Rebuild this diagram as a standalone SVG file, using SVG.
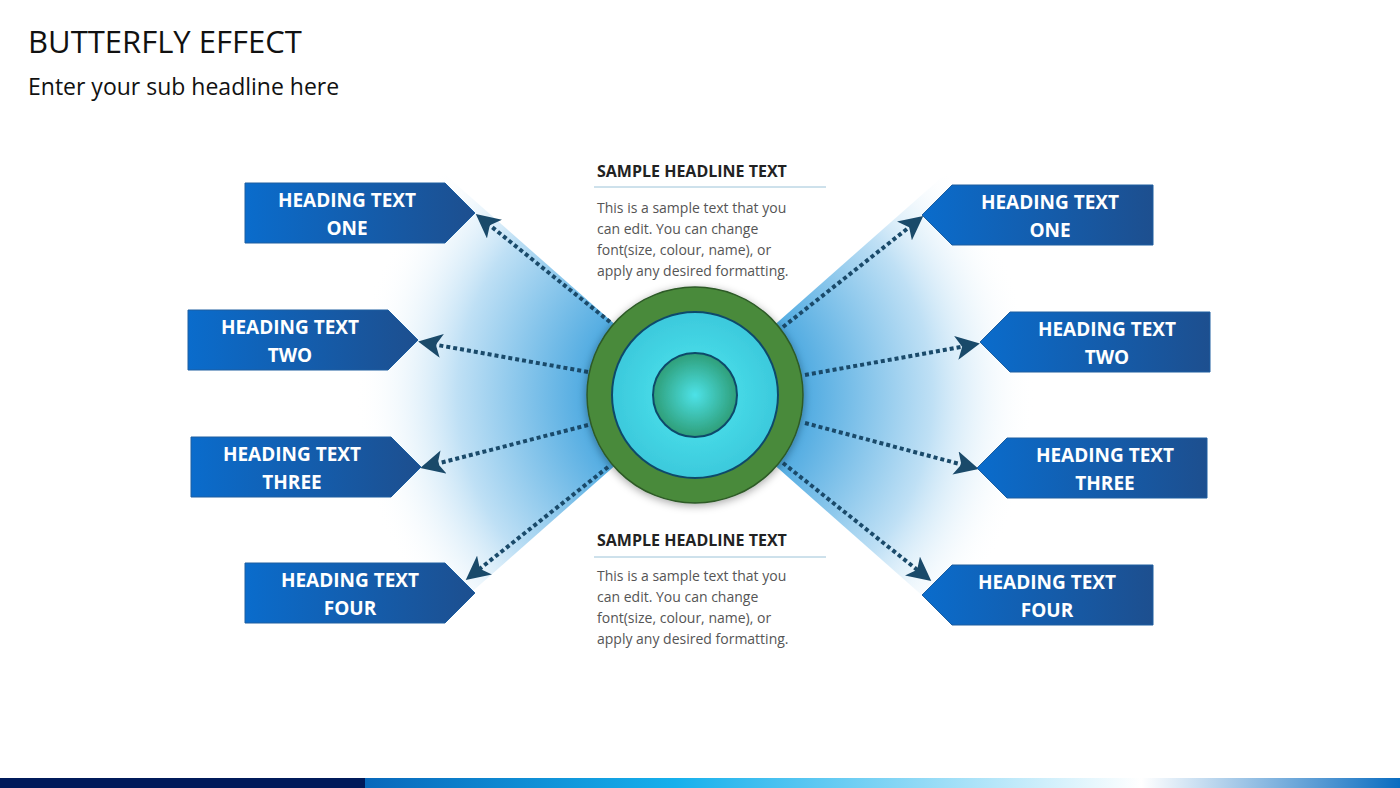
<svg xmlns="http://www.w3.org/2000/svg" width="1400" height="788" viewBox="0 0 1400 788">
<defs>
<style>
.h{font-family:"Open Sans","Liberation Sans",sans-serif;font-weight:bold;font-size:19px;fill:#fff;text-anchor:middle}
.t{font-family:"Open Sans","Liberation Sans",sans-serif;font-size:14px;fill:#555}
.sh{font-family:"Open Sans","Liberation Sans",sans-serif;font-weight:bold;font-size:16px;fill:#222}
.box{fill:url(#bg);stroke:#1e5fa0;stroke-width:1}
.arr{stroke:#1a4a6a;stroke-width:4;stroke-dasharray:4 3;fill:none;marker-end:url(#ah)}
</style>
<linearGradient id="bg" x1="0" y1="0" x2="1" y2="0"><stop offset="0" stop-color="#0a6ccc"/><stop offset="1" stop-color="#1d4f8f"/></linearGradient>
<radialGradient id="fan" cx="695" cy="395" r="340" gradientUnits="userSpaceOnUse"><stop offset="0.3" stop-color="#4aa8e0"/><stop offset="0.7" stop-color="#bfe0f5"/><stop offset="1" stop-color="#ffffff" stop-opacity="0"/></radialGradient>
<radialGradient id="cy" cx="0.5" cy="0.5" r="0.5"><stop offset="0" stop-color="#4fe8f0"/><stop offset="1" stop-color="#3cc9dc"/></radialGradient>
<radialGradient id="in" cx="0.5" cy="0.5" r="0.5"><stop offset="0" stop-color="#4de2e8"/><stop offset="1" stop-color="#2e9e78"/></radialGradient>
<linearGradient id="bar" x1="0" y1="0" x2="1" y2="0"><stop offset="0" stop-color="#0868bb"/><stop offset="0.3" stop-color="#16b0ec"/><stop offset="0.75" stop-color="#ffffff"/><stop offset="1" stop-color="#0a6cc0"/></linearGradient>
<marker id="ah" markerWidth="6" markerHeight="6" refX="4" refY="3" orient="auto" markerUnits="strokeWidth"><path d="M0,0 L6,3 L0,6 L1.5,3 Z" fill="#1a4a6a"/></marker>
<filter id="sd" x="-20%" y="-20%" width="140%" height="140%"><feDropShadow dx="0" dy="2" stdDeviation="4" flood-opacity="0.35"/></filter>
</defs>
<rect width="1400" height="788" fill="#fff"/>
<text x="28" y="53" style="font-family:'Open Sans','Liberation Sans',sans-serif;font-size:31px;fill:#111">BUTTERFLY EFFECT</text>
<text x="28" y="95" style="font-family:'Open Sans','Liberation Sans',sans-serif;font-size:23px;fill:#111">Enter your sub headline here</text>
<g id="fans">
<path d="M695,395 L440,170 A340,340 0 0 0 440,620 Z" fill="url(#fan)"/>
<path d="M695,395 L950,170 A340,340 0 0 1 950,620 Z" fill="url(#fan)"/>
</g>
<g id="connectors">
<line class="arr" x1="610" y1="322" x2="482" y2="219"/>
<line class="arr" x1="588" y1="372" x2="426" y2="343"/>
<line class="arr" x1="588" y1="425" x2="428" y2="466"/>
<line class="arr" x1="608" y1="467" x2="472" y2="575"/>
<line class="arr" x1="783" y1="327" x2="917" y2="221"/>
<line class="arr" x1="805" y1="375" x2="972" y2="345"/>
<line class="arr" x1="805" y1="423" x2="971" y2="467"/>
<line class="arr" x1="783" y1="463" x2="925" y2="576"/>
</g>
<g id="center" filter="url(#sd)">
<circle cx="695" cy="395" r="108" fill="#4a8a3a" stroke="#2d5a28" stroke-width="1.5"/>
<circle cx="695" cy="395" r="83" fill="url(#cy)" stroke="#0f4a6a" stroke-width="2"/>
<circle cx="695" cy="395" r="42" fill="url(#in)" stroke="#0f4a6a" stroke-width="2"/>
</g>
<g id="text-top">
<text class="sh" x="597" y="177">SAMPLE HEADLINE TEXT</text>
<line x1="594" y1="187" x2="826" y2="187" stroke="#9cc3d8" stroke-width="1"/>
<text class="t" x="597" y="213">This is a sample text that you</text>
<text class="t" x="597" y="234">can edit. You can change</text>
<text class="t" x="597" y="255">font(size, colour, name), or</text>
<text class="t" x="597" y="276">apply any desired formatting.</text>
</g>
<g id="text-bottom">
<text class="sh" x="597" y="546">SAMPLE HEADLINE TEXT</text>
<line x1="594" y1="557" x2="826" y2="557" stroke="#9cc3d8" stroke-width="1"/>
<text class="t" x="597" y="581">This is a sample text that you</text>
<text class="t" x="597" y="602">can edit. You can change</text>
<text class="t" x="597" y="623">font(size, colour, name), or</text>
<text class="t" x="597" y="644">apply any desired formatting.</text>
</g>
<g id="l1"><path class="box" d="M245,183 H445 L475,213 L445,243 H245 Z"/><text class="h" x="347" y="207">HEADING TEXT</text><text class="h" x="347" y="235">ONE</text></g>
<g id="l2"><path class="box" d="M188,310 H388 L418,340 L388,370 H188 Z"/><text class="h" x="290" y="334">HEADING TEXT</text><text class="h" x="290" y="362">TWO</text></g>
<g id="l3"><path class="box" d="M191,437 H391 L421,467 L391,497 H191 Z"/><text class="h" x="292" y="461">HEADING TEXT</text><text class="h" x="292" y="489">THREE</text></g>
<g id="l4"><path class="box" d="M245,563 H445 L475,593 L445,623 H245 Z"/><text class="h" x="350" y="587">HEADING TEXT</text><text class="h" x="350" y="615">FOUR</text></g>
<g id="r1"><path class="box" d="M1153,185 H952 L922,215 L952,245 H1153 Z"/><text class="h" x="1050" y="209">HEADING TEXT</text><text class="h" x="1050" y="237">ONE</text></g>
<g id="r2"><path class="box" d="M1210,312 H1010 L980,342 L1010,372 H1210 Z"/><text class="h" x="1107" y="336">HEADING TEXT</text><text class="h" x="1107" y="364">TWO</text></g>
<g id="r3"><path class="box" d="M1207,438 H1007 L977,468 L1007,498 H1207 Z"/><text class="h" x="1105" y="462">HEADING TEXT</text><text class="h" x="1105" y="490">THREE</text></g>
<g id="r4"><path class="box" d="M1153,565 H952 L922,595 L952,625 H1153 Z"/><text class="h" x="1047" y="589">HEADING TEXT</text><text class="h" x="1047" y="617">FOUR</text></g>
<rect x="0" y="778" width="365" height="10" fill="#001a5a"/>
<rect x="365" y="778" width="1035" height="10" fill="url(#bar)"/>
</svg>
